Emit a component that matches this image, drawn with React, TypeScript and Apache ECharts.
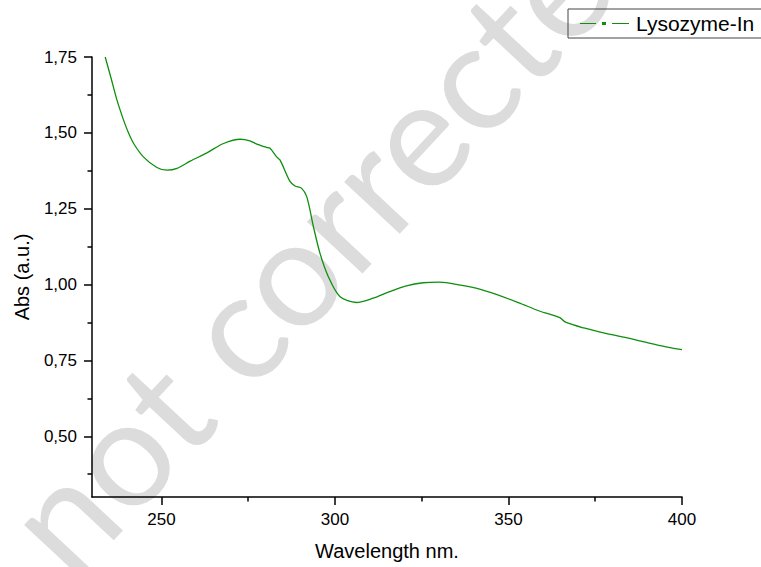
import React, { useEffect, useRef } from "react";
import * as echarts from "echarts";

const seriesName = "Lysozyme-In";
const wavelength = [
  233.8, 235.5, 237.2, 239.1, 240.5, 242.0, 244.8, 248.7, 251.6, 254.5, 258.3, 263.1, 267.9,
  272.7, 275.5, 277.5, 280.3, 281.3, 283.2, 284.2, 287.0, 288.5, 290.4, 291.9, 293.8, 295.7,
  298.1, 301.4, 306.2, 311.0, 315.8, 320.6, 325.4, 330.2, 336.2, 341.7, 347.1, 353.0, 358.9,
  364.8, 366.3, 371.7, 377.7, 383.6, 389.5, 395.4, 400.0,
];
const absorbance = [
  1.75, 1.68, 1.608, 1.542, 1.5, 1.465, 1.421, 1.386, 1.377, 1.383, 1.407, 1.434, 1.465,
  1.479, 1.474, 1.463, 1.452, 1.449, 1.421, 1.41, 1.341, 1.325, 1.317, 1.289, 1.191, 1.103,
  1.026, 0.961, 0.941, 0.955, 0.977, 0.996, 1.006, 1.008, 0.998, 0.985, 0.965, 0.94, 0.913,
  0.891, 0.877, 0.857, 0.84, 0.826, 0.81, 0.795, 0.786,
];
const xTicks = [250, 300, 350, 400];
const xMinorTicks = [275, 325, 375];
const yTicks = [0.5, 0.75, 1.0, 1.25, 1.5, 1.75];
const yMinorTicks = [0.375, 0.625, 0.875, 1.125, 1.375, 1.625];
const xRange = [230, 400];
const yRange = [0.3, 1.75];
const watermark = "not corrected";

const FONT = "'Liberation Sans', Arial, sans-serif";

export default function App() {
  const ref = useRef<HTMLDivElement>(null);
  useEffect(() => {
    if (!ref.current) return;
    const chart = echarts.init(ref.current, null, { renderer: "svg" });
    const data = wavelength.map((w, i) => [w, absorbance[i]]);
    const lineColor = "#0e8f0e";
    const axisLine = { show: true, lineStyle: { color: "#000", width: 1.5 } };
    chart.setOption({
      animation: false,
      backgroundColor: "#fff",
      graphic: [
        {
          type: "text",
          x: 30,
          y: 545,
          rotation: 0.82,
          z: -10,
          silent: true,
          style: {
            text: watermark,
            fontSize: 150,
            fontFamily: "Lato",
            fill: "#dcdcdc",
            align: "left",
            verticalAlign: "middle",
          },
        },
      ],
      legend: {
        data: [seriesName],
        left: 568,
        top: 9,
        padding: [4, 12, 4, 12],
        itemWidth: 49,
        itemHeight: 3,
        borderColor: "#444",
        borderWidth: 1,
        selectedMode: false,
        icon: "path://M0,1h16v1h-16z M22,0h4v3h-4z M32,1h17v1h-17z",
        itemStyle: { color: lineColor, borderColor: lineColor, borderWidth: 0 },
        lineStyle: { color: lineColor },
        textStyle: { fontSize: 21, lineHeight: 21, color: "#000", fontFamily: FONT, padding: [0, 0, 0, 2] },
      },
      grid: {
        left: 92,
        right: 79,
        top: 57,
        bottom: 70,
        containLabel: false,
        outerBoundsMode: "none",
      },
      xAxis: [
        {
          type: "value",
          min: xRange[0],
          max: xRange[1],
          position: "bottom",
          axisLine,
          axisTick: { show: true, customValues: xTicks, length: 8, lineStyle: { color: "#000", width: 1.5 } },
          axisLabel: {
            customValues: xTicks,
            fontSize: 17,
            color: "#000",
            fontFamily: FONT,
            margin: 14,
          },
          splitLine: { show: false },
          name: "Wavelength nm.",
          nameLocation: "middle",
          nameGap: 44,
          nameTextStyle: { fontSize: 20, color: "#000", fontFamily: FONT },
        },
        {
          type: "value",
          min: xRange[0],
          max: xRange[1],
          position: "bottom",
          axisLine: { show: false },
          axisTick: { show: true, customValues: xMinorTicks, length: 4.5, lineStyle: { color: "#000", width: 1.5 } },
          axisLabel: { show: false },
          splitLine: { show: false },
        },
      ],
      yAxis: [
        {
          type: "value",
          min: yRange[0],
          max: yRange[1],
          position: "left",
          axisLine,
          axisTick: { show: true, customValues: yTicks, length: 8, lineStyle: { color: "#000", width: 1.5 } },
          axisLabel: {
            customValues: yTicks,
            fontSize: 17,
            color: "#000",
            fontFamily: FONT,
            margin: 15,
            formatter: (v: number) => v.toFixed(2).replace(".", ","),
          },
          splitLine: { show: false },
          name: "Abs (a.u.)",
          nameLocation: "middle",
          nameGap: 60,
          nameTextStyle: { fontSize: 20, color: "#000", fontFamily: FONT },
        },
        {
          type: "value",
          min: yRange[0],
          max: yRange[1],
          position: "left",
          axisLine: { show: false },
          axisTick: { show: true, customValues: yMinorTicks, length: 4.5, lineStyle: { color: "#000", width: 1.5 } },
          axisLabel: { show: false },
          splitLine: { show: false },
        },
      ],
      series: [
        {
          name: seriesName,
          type: "line",
          xAxisIndex: 0,
          yAxisIndex: 0,
          data,
          smooth: 0.3,
          showSymbol: false,
          symbol: "rect",
          symbolSize: 3,
          lineStyle: { color: lineColor, width: 1.3 },
          itemStyle: { color: lineColor },
        },
      ],
    });
    return () => chart.dispose();
  }, []);
  return (
    <div
      ref={ref}
      style={{ position: "absolute", left: 0, top: 0, width: 761, height: 567 }}
    />
  );
}
